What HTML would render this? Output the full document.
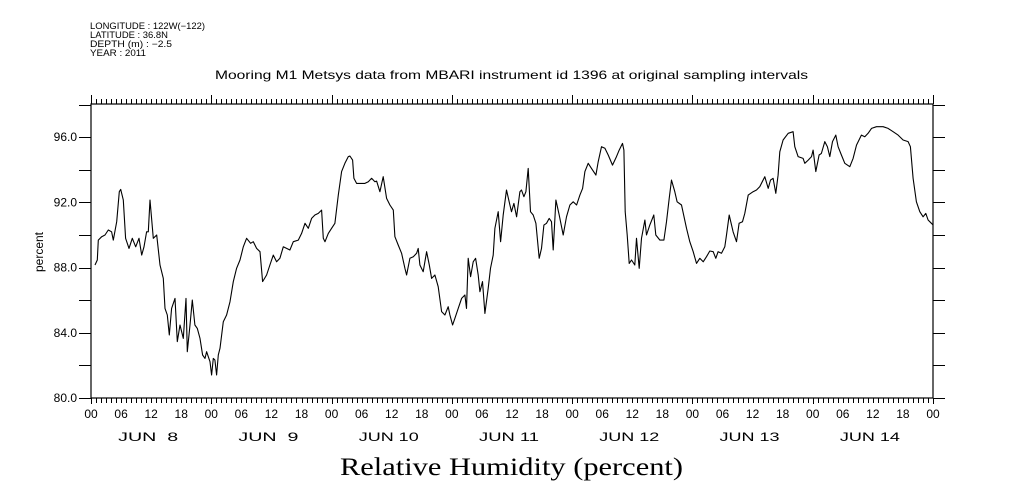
<!DOCTYPE html>
<html><head><meta charset="utf-8">
<style>
body{margin:0;background:#fff;}
svg{display:block;}
.sm{font-family:"Liberation Sans",sans-serif;font-size:9px;fill:#000;}
.mono{font-family:"Liberation Sans",sans-serif;font-size:12px;fill:#000;}
</style></head>
<body>
<svg id="chart" width="1009" height="504" viewBox="0 0 1009 504" xmlns="http://www.w3.org/2000/svg">
<rect width="1009" height="504" fill="#fff"/>
<g>
<text class="sm" x="90" y="29" textLength="115" lengthAdjust="spacingAndGlyphs">LONGITUDE : 122W(−122)</text>
<text class="sm" x="90" y="38" textLength="78" lengthAdjust="spacingAndGlyphs">LATITUDE : 36.8N</text>
<text class="sm" x="90" y="47" textLength="82" lengthAdjust="spacingAndGlyphs">DEPTH (m) : −2.5</text>
<text class="sm" x="90" y="56" textLength="56" lengthAdjust="spacingAndGlyphs">YEAR : 2011</text>
</g>
<text class="mono" x="215" y="79" textLength="593" lengthAdjust="spacingAndGlyphs">Mooring M1 Metsys data from MBARI instrument id 1396 at original sampling intervals</text>
<text x="340" y="475" textLength="343" lengthAdjust="spacingAndGlyphs" style="font-family:'Liberation Serif',serif;font-size:25px">Relative Humidity (percent)</text>
<text class="mono" transform="translate(43,252) rotate(-90)" text-anchor="middle" font-size="13">percent</text>
<g id="axes"></g>
<g id="series"></g>
</svg>
<script>
const hours=[0.8,1.26,1.46,2.13,2.79,3.46,4.12,4.45,5.12,5.65,5.92,6.45,6.91,7.58,8.24,8.91,9.57,10.11,10.57,11.1,11.44,11.77,12.43,13.1,13.76,14.43,14.76,15.23,15.63,16.09,16.76,17.22,17.75,18.42,18.95,19.22,19.75,20.21,20.74,21.21,21.74,22.27,22.74,23.07,23.74,24.07,24.4,24.73,25.07,25.4,25.73,26.4,27.06,27.73,28.39,29.06,29.72,30.39,31.05,31.85,32.38,33.05,33.71,34.24,35.04,35.7,36.37,37.03,37.7,38.36,39.03,39.69,40.36,41.36,42.02,42.69,43.35,44.02,44.68,45.35,46.01,46.34,46.68,47.34,48.01,48.67,49.34,50,50.66,51.33,51.66,52.19,52.46,52.99,53.66,54.65,55.32,55.98,56.65,56.98,57.65,58.31,58.98,59.64,60.31,60.64,61.3,61.97,62.63,62.97,63.63,64.3,64.96,65.29,65.63,66.29,66.96,67.49,67.95,68.62,69.28,69.95,70.61,71.28,71.61,72.14,72.61,73.27,73.94,74.6,74.93,75.27,75.73,76.26,76.73,77.26,77.59,78.12,78.59,79.26,79.72,80.25,80.59,81.25,81.72,82.25,82.91,83.58,83.91,84.38,84.91,85.57,85.9,86.37,86.77,87.23,87.7,88.23,88.76,89.43,89.89,90.36,90.89,91.42,91.89,92.22,92.75,93.42,94.22,94.88,95.55,96.21,96.88,97.54,98.08,98.54,99.21,99.87,100.74,101.2,101.86,102.53,103.19,104.06,104.85,105.39,106.05,106.32,106.58,106.98,107.38,107.85,108.51,108.84,109.38,109.84,110.51,110.84,111.5,112.3,112.7,113.5,114.3,114.83,115.36,115.82,116.49,116.95,117.82,118.82,119.48,120.15,120.81,121.48,122.14,122.81,123.47,124.14,124.67,125.13,125.8,126.46,126.8,127.33,128.12,128.79,129.32,129.99,130.45,131.12,132.11,132.78,133.44,134.44,135.11,135.57,136.1,136.64,137.1,137.43,138.1,139.1,140.09,140.43,141.09,142.09,142.42,143.09,143.75,144.08,144.61,145.28,145.74,146.41,146.94,147.41,147.94,148.6,149.07,149.73,150.4,151.4,152.06,152.73,153.72,154.39,155.05,155.72,156.72,158.05,159.04,160.04,161.04,162.03,163.03,163.5,164.03,164.69,165.36,166.02,166.56,167.02,167.69,168.02];
const humidity=[88.16,88.47,89.69,89.9,90,90.31,90.2,89.69,90.82,92.66,92.8,92.15,89.8,89.18,89.8,89.28,89.8,88.77,89.28,90.2,90.2,92.15,89.8,90,88.16,87.34,85.5,85.09,83.87,85.5,86.11,83.46,84.48,83.66,86.11,82.84,84.48,86.01,84.48,84.27,83.66,82.64,82.43,82.84,82.23,81.41,82.43,82.33,81.41,82.64,83.05,84.68,85.09,85.91,87.14,87.96,88.47,89.28,89.8,89.49,89.59,89.18,88.98,87.14,87.55,88.16,88.77,88.36,88.57,89.28,89.18,89.08,89.59,89.69,90.1,90.72,90.41,91.02,91.23,91.33,91.53,89.8,89.59,90.1,90.41,90.72,92.45,93.89,94.4,94.81,94.85,94.6,93.48,93.17,93.17,93.17,93.27,93.48,93.27,93.31,92.66,93.58,92.25,91.84,91.53,89.9,89.39,88.88,87.96,87.55,88.57,88.67,88.88,89.18,88.16,87.75,88.98,88.16,87.34,87.55,86.83,85.3,85.09,85.6,85.09,84.48,84.89,85.5,86.11,86.32,85.5,88.57,87.44,88.36,88.57,87.55,86.52,87.14,85.19,86.73,87.96,88.77,90.41,91.43,89.59,91.23,92.76,91.84,91.43,91.94,91.12,92.66,92.76,92.35,92.66,94.09,91.43,91.23,90.72,88.57,89.18,90.61,90.72,91.02,90.82,89.08,92.15,91.23,90,91.12,91.84,92.04,91.84,92.45,92.86,93.89,94.4,94.09,93.68,94.5,95.42,95.32,94.91,94.29,94.81,95.21,95.62,95.21,91.43,90,88.26,88.47,88.16,89.8,87.96,89.8,90.92,90,90.61,91.23,90,89.69,89.69,90.82,92.25,93.37,92.66,92.04,91.84,90.41,89.59,88.98,88.26,88.57,88.36,88.67,89.02,88.98,88.57,88.98,88.88,89.28,90,91.23,90.2,89.59,90.72,90.82,91.33,92.45,92.66,92.76,92.97,93.58,92.86,93.37,93.48,92.56,93.68,95.11,95.83,96.24,96.34,95.42,94.81,94.7,94.4,94.6,94.81,95.21,93.89,94.91,95.01,95.73,95.42,94.81,95.73,96.13,95.42,94.91,94.4,94.19,94.7,95.52,96.13,96.03,96.24,96.54,96.65,96.65,96.54,96.34,96.13,95.83,95.73,95.42,93.48,92.04,91.43,91.12,91.33,90.92,90.72,90.61];
const yTickLabels=["80.0","84.0","88.0","92.0","96.0"];
const yTickValues=[80,84,88,92,96];
const dayLabels=["JUN  8","JUN  9","JUN 10","JUN 11","JUN 12","JUN 13","JUN 14"];
const hourLabels=["00","06","12","18"];

const X0=91,X1=933,Y0=398,Y1=104,HMAX=168,VMIN=80,VMAX=98.04;
function xs(h){return X0+(h/HMAX)*(X1-X0);}
function ys(v){return Y0-(v-VMIN)/(VMAX-VMIN)*(Y0-Y1);}
const NS="http://www.w3.org/2000/svg";
const axes=document.getElementById('axes');
function mk(tag,attrs,parent){const e=document.createElementNS(NS,tag);for(const k in attrs)e.setAttribute(k,attrs[k]);parent.appendChild(e);return e;}
const frame=mk('rect',{x:X0,y:Y1,width:X1-X0,height:Y0-Y1,fill:'none',stroke:'#000','stroke-width':1.2},axes);


let d='';
for(let h=0;h<=HMAX;h++){
  const x=Math.round(xs(h))+0.5;
  const major=(h%24===0);
  d+=`M${x} ${Y1}V${Y1-(major?9:5)}M${x} ${Y0}V${Y0+(major?6:5)}`;
}
for(let v=80;v<=98;v+=2){
  const y=Math.round(ys(v))+0.5;
  d+=`M${X0} ${y}H${X0-12}M${X1} ${y}H${X1+12}`;
}
const ticks=mk('path',{d:d,stroke:'#000','stroke-width':1,fill:'none'},axes);


yTickValues.forEach((v,i)=>{
  const t=mk('text',{x:77,y:ys(v)+4,'text-anchor':'end',class:'mono','font-size':'11'},axes);
  t.textContent=yTickLabels[i];
  
  
});
for(let h=0;h<=HMAX;h+=6){
  const t=mk('text',{x:xs(h),y:418,'text-anchor':'middle',class:'mono','font-size':'12'},axes);
  t.textContent=hourLabels[(h/6)%4];
  
  
}
dayLabels.forEach((lab,i)=>{
  const t=mk('text',{x:xs(i*24+12)-33,y:441,class:'mono','font-size':'16',textLength:'60',lengthAdjust:'spacingAndGlyphs'},axes);
  t.style.whiteSpace='pre';
  t.textContent=lab;
  
  
});
const pts=hours.map((h,i)=>xs(h).toFixed(1)+','+ys(humidity[i]).toFixed(1)).join(' ');
const line=mk('polyline',{points:pts,fill:'none',stroke:'#000','stroke-width':1.1,'stroke-linejoin':'round'},document.getElementById('series'));


</script>
</body></html>
